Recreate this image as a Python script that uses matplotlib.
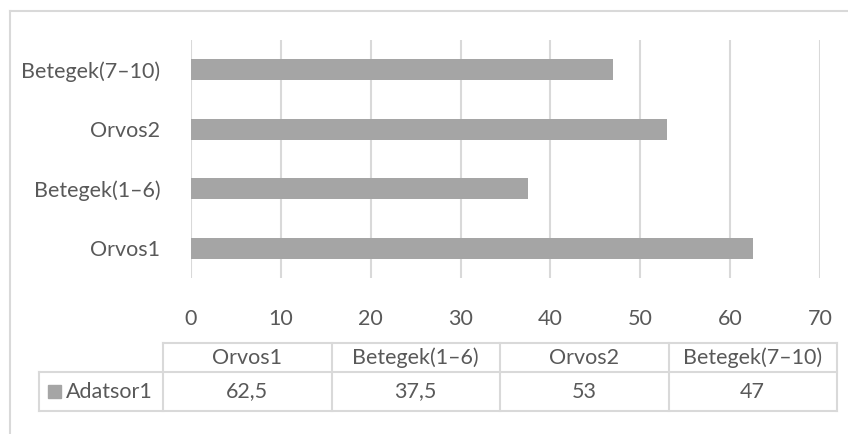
import matplotlib.pyplot as plt
from matplotlib.patches import Rectangle

# Series data
categories = ['Orvos1', 'Betegek(1–6)', 'Orvos2', 'Betegek(7–10)']
values = [62.5, 37.5, 53, 47]
value_labels = ['62,5', '37,5', '53', '47']
series_name = 'Adatsor1'
x_ticks = [0, 10, 20, 30, 40, 50, 60, 70]

W, H = 848, 434
bar_color = '#A5A5A5'
grid_color = '#D9D9D9'
text_color = '#595959'
plt.rcParams['font.family'] = ['Lato', 'DejaVu Sans']
fs = 15.5

fig = plt.figure(figsize=(W / 100, H / 100), dpi=100)

# pixel helper: (left, top, right, bottom) -> figure fraction
def px_rect(l, t, r, b):
    return [l / W, 1 - b / H, (r - l) / W, (b - t) / H]

ax = fig.add_axes(px_rect(191, 40, 820, 278))
ax.barh(range(len(categories)), values, height=0.35, color=bar_color, zorder=3)
ax.set_xlim(0, 70)
ax.set_ylim(-0.5, len(categories) - 0.5)
ax.set_xticks(x_ticks)
ax.set_xticklabels([str(t) for t in x_ticks])
ax.set_yticks(range(len(categories)))
ax.set_yticklabels(categories)
ax.tick_params(axis='both', length=0, labelsize=fs, labelcolor=text_color)
ax.tick_params(axis='x', pad=22)
ax.tick_params(axis='y', pad=22)
ax.grid(axis='x', color=grid_color, linewidth=1.5, zorder=0)
for s in ax.spines.values():
    s.set_visible(False)

# overlay in pixel coordinates for the chart border and data table
ov = fig.add_axes([0, 0, 1, 1], zorder=5)
ov.set_xlim(0, W)
ov.set_ylim(H, 0)
ov.axis('off')
ov.patch.set_alpha(0)

lw = 1.5
ov.plot([10, W], [11, 11], color=grid_color, lw=lw)
ov.plot([10, 10], [11, H], color=grid_color, lw=lw)

label_l, col_l, col_r = 39, 163, 837
head_t, row_t, row_b = 343, 372, 411
n = len(categories)
col_w = (col_r - col_l) / n
col_edges = [col_l + i * col_w for i in range(n + 1)]

ov.plot([col_l, col_r], [head_t, head_t], color=grid_color, lw=lw)
ov.plot([label_l, col_r], [row_t, row_t], color=grid_color, lw=lw)
ov.plot([label_l, col_r], [row_b, row_b], color=grid_color, lw=lw)
ov.plot([label_l, label_l], [row_t, row_b], color=grid_color, lw=lw)
for x in col_edges:
    ov.plot([x, x], [head_t, row_b], color=grid_color, lw=lw)

for i, (cat, lab) in enumerate(zip(categories, value_labels)):
    cx = (col_edges[i] + col_edges[i + 1]) / 2
    ov.text(cx, (head_t + row_t) / 2, cat, ha='center', va='center',
            fontsize=fs, color=text_color)
    ov.text(cx, (row_t + row_b) / 2, lab, ha='center', va='center',
            fontsize=fs, color=text_color)

ov.add_patch(Rectangle((48, 385), 13, 13, color=bar_color))
ov.text(66, (row_t + row_b) / 2, series_name, ha='left', va='center',
        fontsize=fs, color=text_color)

fig.savefig('out.png', dpi=100)
